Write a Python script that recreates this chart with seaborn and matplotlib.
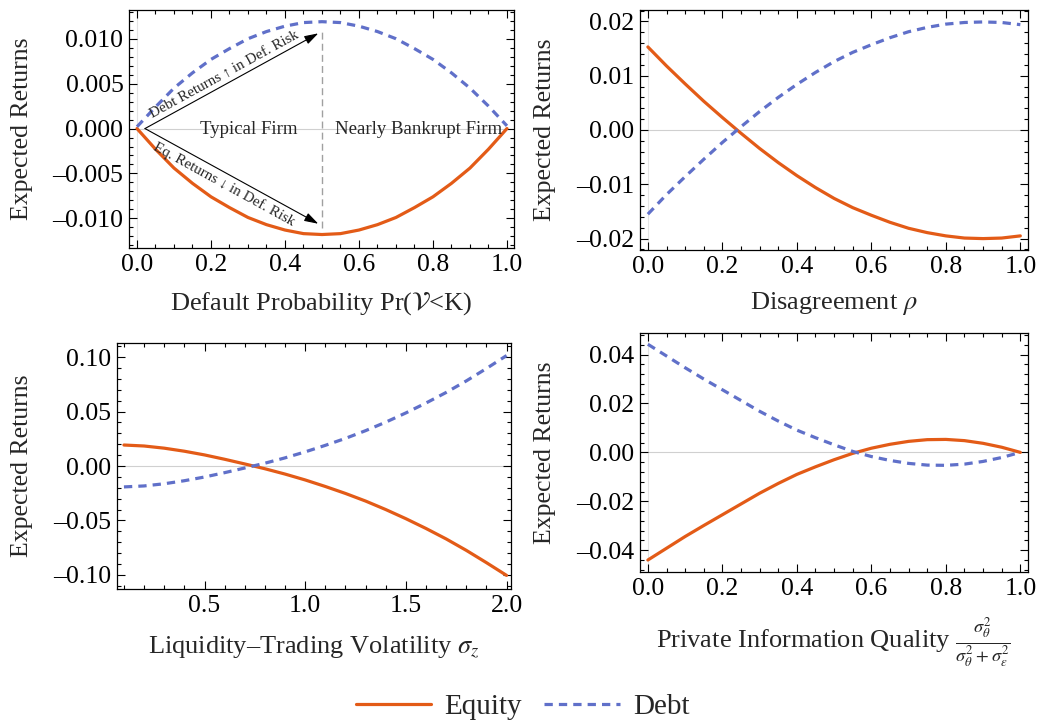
import matplotlib
matplotlib.use("Agg")
import matplotlib.pyplot as plt
import matplotlib.ticker as mticker
import numpy as np
import pandas as pd
import seaborn as sns

# default probability panel
pd_x = [0.0, 0.05, 0.10, 0.15, 0.20, 0.25, 0.30, 0.35, 0.40, 0.45, 0.50,
        0.55, 0.60, 0.65, 0.70, 0.75, 0.80, 0.85, 0.90, 0.95, 1.0]
pd_equity = [0.0, -0.0023, -0.0044, -0.0061, -0.0076, -0.0088, -0.0099, -0.0107, -0.0113, -0.0117, -0.0118,
             -0.0117, -0.0113, -0.0107, -0.0099, -0.0088, -0.0076, -0.0061, -0.0044, -0.0023, 0.0]
pd_debt = [0.0002, 0.0024, 0.0045, 0.0062, 0.0077, 0.0089, 0.0100, 0.0108, 0.0114, 0.0118, 0.0119,
           0.0118, 0.0114, 0.0108, 0.0100, 0.0089, 0.0077, 0.0062, 0.0045, 0.0025, 0.0003]

# disagreement panel
rho_x = [0.0, 0.05, 0.10, 0.15, 0.20, 0.25, 0.30, 0.35, 0.40, 0.45, 0.50,
         0.55, 0.60, 0.65, 0.70, 0.75, 0.80, 0.85, 0.90, 0.95, 1.0]
rho_equity = [0.0153, 0.0118, 0.0085, 0.0053, 0.0023, -0.0006, -0.0034, -0.0060, -0.0084, -0.0106, -0.0126,
              -0.0143, -0.0157, -0.0170, -0.0181, -0.0189, -0.0195, -0.0199, -0.0200, -0.0199, -0.0195]
rho_debt = [-0.0155, -0.0119, -0.0086, -0.0054, -0.0023, 0.0006, 0.0034, 0.0060, 0.0084, 0.0106, 0.0126,
            0.0143, 0.0157, 0.0170, 0.0181, 0.0189, 0.0195, 0.0198, 0.0199, 0.0198, 0.0194]

# liquidity trading volatility panel
sz_x = [0.1, 0.2, 0.3, 0.4, 0.5, 0.6, 0.7, 0.8, 0.9, 1.0,
        1.1, 1.2, 1.3, 1.4, 1.5, 1.6, 1.7, 1.8, 1.9, 2.0]
sz_equity = [0.0193, 0.0184, 0.0164, 0.0136, 0.0102, 0.0062, 0.0019, -0.0025, -0.0074, -0.0128,
             -0.0188, -0.0252, -0.0322, -0.0400, -0.0484, -0.0574, -0.0670, -0.0775, -0.0888, -0.1005]
sz_debt = [-0.0192, -0.0183, -0.0163, -0.0135, -0.0101, -0.0061, -0.0018, 0.0026, 0.0075, 0.0130,
           0.0190, 0.0254, 0.0325, 0.0403, 0.0488, 0.0579, 0.0676, 0.0782, 0.0896, 0.1015]

# private information quality panel
q_x = [0.0, 0.05, 0.10, 0.15, 0.20, 0.25, 0.30, 0.35, 0.40, 0.45, 0.50,
       0.55, 0.60, 0.65, 0.70, 0.75, 0.80, 0.85, 0.90, 0.95, 1.0]
q_equity = [-0.0440, -0.0392, -0.0344, -0.0299, -0.0255, -0.0211, -0.0167, -0.0127, -0.0090, -0.0059, -0.0030,
            -0.0004, 0.0017, 0.0033, 0.0045, 0.0052, 0.0053, 0.0048, 0.0037, 0.0021, 0.0]
q_debt = [0.0442, 0.0394, 0.0346, 0.0300, 0.0256, 0.0212, 0.0168, 0.0128, 0.0091, 0.0060, 0.0031,
          0.0004, -0.0017, -0.0033, -0.0045, -0.0052, -0.0053, -0.0048, -0.0037, -0.0021, 0.0]

xlabels = [r"Default Probability Pr($\mathcal{V}$<K)",
           r"Disagreement $\rho$",
           "Liquidity\u2013Trading Volatility $\\sigma_z$",
           r"Private Information Quality $\frac{\sigma_\theta^2}{\sigma_\theta^2+\sigma_\varepsilon^2}$"]

sns.set_theme(style="ticks")
plt.rcParams["font.family"] = ["Liberation Serif", "DejaVu Serif"]
plt.rcParams["mathtext.fontset"] = "stix"

orange = "#e35b17"
blue = "#6070c9"
palette = {"Equity": orange, "Debt": blue}
dashes = {"Equity": "", "Debt": (2.6, 1.9)}

fig = plt.figure(figsize=(10.37, 7.23), dpi=100)
W, H = 1037, 723

def make_ax(l, r, t, b):
    return fig.add_axes([l / W, 1 - b / H, (r - l) / W, (b - t) / H])

axes = [make_ax(129, 514, 10, 248), make_ax(639.5, 1028, 10, 250),
        make_ax(116.5, 511, 342.5, 589), make_ax(639.5, 1028, 333, 572)]

panels = [(pd_x, pd_equity, pd_debt), (rho_x, rho_equity, rho_debt),
          (sz_x, sz_equity, sz_debt), (q_x, q_equity, q_debt)]

for ax, (xs, eq, db) in zip(axes, panels):
    df = pd.DataFrame({"x": xs + xs, "y": eq + db,
                       "series": ["Equity"] * len(xs) + ["Debt"] * len(xs)})
    ax.axhline(0, color="#d0d0d0", lw=0.8, zorder=0)
    if xs[0] == 0.0:
        ax.axvline(0, color="#e4e4e4", lw=0.8, zorder=0)
    sns.lineplot(data=df, x="x", y="y", hue="series", style="series",
                 hue_order=["Equity", "Debt"], style_order=["Equity", "Debt"],
                 palette=palette, dashes=dashes, lw=2.3, legend=False, ax=ax)

limits = [((-0.0216, 1.019), (-0.0133, 0.0132)),
          ((-0.0225, 1.0206), (-0.0221, 0.0221)),
          ((0.063, 2.022), (-0.113, 0.1135)),
          ((-0.0225, 1.0206), (-0.0489, 0.0488))]
xmajor = [0.2, 0.2, 0.5, 0.2]
xminor = [0.05, 0.05, 0.1, 0.05]
ymajor = [0.005, 0.01, 0.05, 0.02]
yminor = [0.001, 0.002, 0.01, 0.004]
ydec = [3, 2, 2, 2]
ylab_x = [-0.279, -0.243, -0.240, -0.243]
xlab_y = [-0.232, -0.222, -0.235, -0.293]


def dash_fmt(nd):
    def f(v, pos):
        s = f"{v:.{nd}f}"
        if s.startswith("-"):
            s = "\u2013" + s[1:]
        if s.replace("0", "").replace(".", "") == "\u2013":
            s = s[1:]
        return s
    return mticker.FuncFormatter(f)


for i, ax in enumerate(axes):
    ax.set_xlim(*limits[i][0])
    ax.set_ylim(*limits[i][1])
    ax.xaxis.set_major_locator(mticker.MultipleLocator(xmajor[i]))
    ax.xaxis.set_minor_locator(mticker.MultipleLocator(xminor[i]))
    ax.yaxis.set_major_locator(mticker.MultipleLocator(ymajor[i]))
    ax.yaxis.set_minor_locator(mticker.MultipleLocator(yminor[i]))
    ax.xaxis.set_major_formatter(mticker.FormatStrFormatter("%.1f"))
    ax.yaxis.set_major_formatter(dash_fmt(ydec[i]))
    ax.tick_params(which="both", direction="in", top=True, right=True,
                   colors="black", labelsize=18.5, width=0.8)
    ax.tick_params(which="major", length=5.5, pad=4)
    ax.tick_params(which="minor", length=2.8)
    for s in ax.spines.values():
        s.set_color("black")
        s.set_linewidth(0.9)
    ax.set_ylabel("Expected Returns", fontsize=18.5, va="center")
    ax.yaxis.set_label_coords(ylab_x[i], 0.5)
    ax.set_xlabel(xlabels[i], fontsize=19, va="center")
    ax.xaxis.set_label_coords(0.5, xlab_y[i])

# annotations on the default-probability panel
ax = axes[0]
ax.plot([0.5, 0.5], [-0.0111, 0.0109], color="#a0a0a0", lw=1.0, ls=(0, (5, 3)), zorder=1)
arrow = dict(arrowstyle="-|>,head_length=0.7,head_width=0.22", color="black",
             lw=0.8, shrinkA=0, shrinkB=0)
ax.annotate("", xy=(0.49, 0.0106), xytext=(0.0216, 0.0), arrowprops=arrow)
ax.annotate("", xy=(0.49, -0.0106), xytext=(0.0216, 0.0), arrowprops=arrow)
ax.text(0.236, 0.0060, "Debt Returns \u2191 in Def. Risk", rotation=28.8,
        rotation_mode="anchor", ha="center", va="center", fontsize=10.8)
ax.text(0.236, -0.0062, "Eq. Returns \u2193 in Def. Risk", rotation=-28.8,
        rotation_mode="anchor", ha="center", va="center", fontsize=10.8)
ax.text(0.301, -0.0001, "Typical Firm", ha="center", va="center", fontsize=13.5)
ax.text(0.76, -0.0001, "Nearly Bankrupt Firm", ha="center", va="center", fontsize=13.5)

lines = axes[0].get_lines()
handles = [l for l in lines if l.get_color() in (orange, blue)][:2]
fig.legend(handles, ["Equity", "Debt"], loc="center", bbox_to_anchor=(0.5 + 4 / W, 1 - 707 / H),
           ncol=2, frameon=False, fontsize=21, handlelength=2.6, handletextpad=0.45,
           columnspacing=0.75)

fig.savefig("out.png", dpi=100)
